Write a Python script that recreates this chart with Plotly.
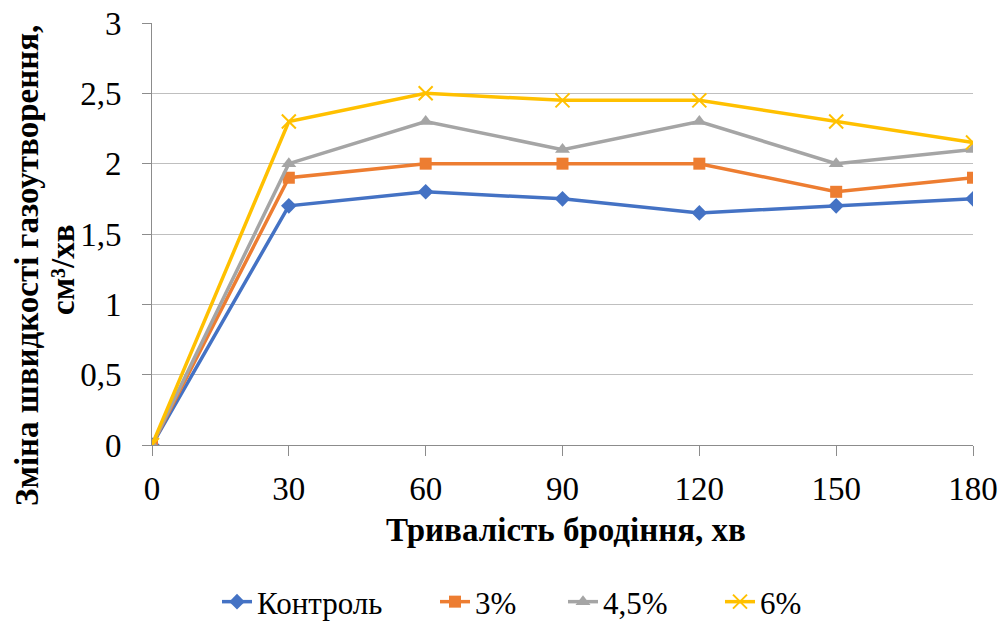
import plotly.graph_objects as go

minutes = [0, 30, 60, 90, 120, 150, 180]
control = [0, 1.70, 1.80, 1.75, 1.65, 1.70, 1.75]
p3 = [0, 1.90, 2.00, 2.00, 2.00, 1.80, 1.90]
p45 = [0, 2.00, 2.30, 2.10, 2.30, 2.00, 2.10]
p6 = [0, 2.30, 2.50, 2.45, 2.45, 2.30, 2.15]
names = ["Контроль", "3%", "4,5%", "6%"]
y_ticks = [0, 0.5, 1, 1.5, 2, 2.5, 3]
y_tick_text = ["0", "0,5", "1", "1,5", "2", "2,5", "3"]
x_title = "Тривалість бродіння, хв"
y_title_1 = "Зміна швидкості газоутворення,"
y_title_2 = "см³/хв"

colors = ["#4472C4", "#ED7D31", "#A5A5A5", "#FFC000"]
symbols = ["diamond", "square", "triangle-up", "x-thin"]
sizes = [12, 12, 13, 14]
legend_ids = ["legend", "legend2", "legend3", "legend4"]
legend_text_x = [257, 475, 603, 760]

W, H = 1000, 625
font = "Liberation Serif"
fs = 33
lfs = 31

fig = go.Figure()
for name, ys, c, s, sz, lid in zip(names, [control, p3, p45, p6], colors, symbols, sizes, legend_ids):
    marker = dict(symbol=s, size=sz, color=c)
    if s == "x-thin":
        marker["line"] = dict(color=c, width=2)
    fig.add_trace(go.Scatter(x=minutes, y=ys, name=name, mode="lines+markers",
                             line=dict(color=c, width=3.5), marker=marker, legend=lid))

legends = {}
for lid, tx in zip(legend_ids, legend_text_x):
    legends[lid] = dict(orientation="h", x=(tx - 40) / W, xanchor="left", xref="container",
                        y=1 - 602 / H, yanchor="middle", yref="container",
                        bgcolor="rgba(0,0,0,0)", borderwidth=0,
                        font=dict(family=font, size=lfs))

fig.update_layout(
    width=W, height=H,
    margin=dict(l=152, r=27, t=23, b=180),
    paper_bgcolor="white", plot_bgcolor="white",
    font=dict(family=font, size=fs, color="black"),
    showlegend=True,
    xaxis=dict(range=[0, 180], tickvals=minutes, showgrid=False,
               showline=True, linecolor="#8C8C8C", linewidth=1,
               ticks="outside", ticklen=10, tickcolor="#8C8C8C",
               zeroline=False, automargin=False, ticklabelstandoff=4,
               tickfont=dict(family=font, size=fs)),
    yaxis=dict(range=[0, 3], tickvals=y_ticks, ticktext=y_tick_text,
               showgrid=True, gridcolor="#BFBFBF", gridwidth=1,
               showline=True, linecolor="#8C8C8C", linewidth=1,
               ticks="outside", ticklen=9, tickcolor="#8C8C8C",
               zeroline=False, automargin=False, ticklabelstandoff=14,
               tickfont=dict(family=font, size=fs)),
    **legends,
)
fig.add_annotation(text="<b>" + x_title + "</b>", xref="paper", yref="paper",
                   x=(566 - 152) / 821, y=-(530 - 445) / 422,
                   xanchor="center", yanchor="middle", showarrow=False,
                   font=dict(size=fs, family=font))
fig.add_annotation(text="<b>" + y_title_1 + "</b>", xref="paper", yref="paper",
                   x=-(152 - 27) / 821, y=(445 - 266) / 422,
                   xanchor="center", yanchor="middle", textangle=-90,
                   showarrow=False, font=dict(size=fs, family=font))
fig.add_annotation(text="<b>" + y_title_2 + "</b>", xref="paper", yref="paper",
                   x=-(152 - 63) / 821, y=(445 - 270) / 422,
                   xanchor="center", yanchor="middle", textangle=-90,
                   showarrow=False, font=dict(size=fs, family=font))
fig.write_html("out.html", config={"displayModeBar": False},
               post_script="document.body.style.margin='0';")
